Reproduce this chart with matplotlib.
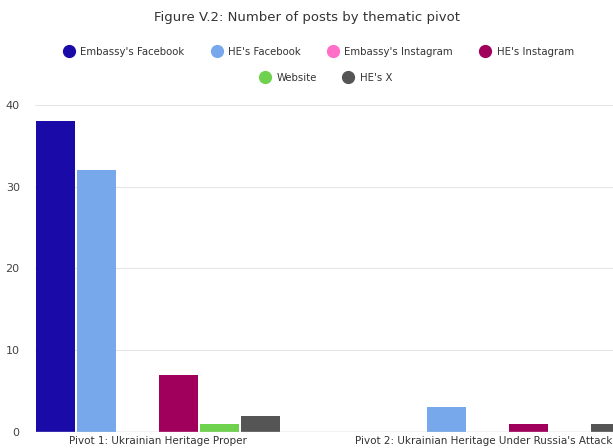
import matplotlib.pyplot as plt
import numpy as np
from matplotlib.lines import Line2D

# data
pivots = ["Pivot 1: Ukrainian Heritage Proper", "Pivot 2: Ukrainian Heritage Under Russia's Attack"]
channels = ["Embassy's Facebook", "HE's Facebook", "Embassy's Instagram", "HE's Instagram", "Website", "HE's X"]
embassy_fb = [38, 0]
he_fb = [32, 3]
embassy_ig = [0, 0]
he_ig = [7, 1]
website = [1, 0]
he_x = [2, 1]

colors = ["#1a0aa8", "#78a8ec", "#ff6ec7", "#a0005c", "#6fd24e", "#555555"]
series = [embassy_fb, he_fb, embassy_ig, he_ig, website, he_x]

fig = plt.figure(figsize=(6.13, 4.48), dpi=100)
ax = fig.add_axes([35 / 613, 16 / 448, 1 - 35 / 613, (432 - 105) / 448])

x = np.arange(len(pivots))
step = 0.117
width = 0.113
for i, (vals, c) in enumerate(zip(series, colors)):
    ax.bar(x + (i - 2.5) * step, vals, width, color=c, label=channels[i], zorder=3)

ax.set_xlim(-0.351, 1.3)
ax.set_ylim(0, 40)
ax.set_yticks([0, 10, 20, 30, 40])
ax.yaxis.grid(True, color="#e6e6e6", linewidth=0.8, zorder=0)
ax.axhline(0, color="#c8c8c8", linewidth=1, zorder=4)
for s in ax.spines.values():
    s.set_visible(False)
ax.tick_params(axis="y", length=0, labelsize=8, labelcolor="#444444", pad=11)
ax.set_xticks([])

# category labels; the second one is pushed left so it ends at the chart edge
ax.text(x[0], -0.012, pivots[0], transform=ax.get_xaxis_transform(),
        ha="center", va="top", fontsize=7.5, color="#333333")
ax.text(0.999, -0.012, pivots[1], transform=ax.transAxes,
        ha="right", va="top", fontsize=7.5, color="#333333")

fig.text(0.5, 1 - 18 / 448, "Figure V.2: Number of posts by thematic pivot",
         ha="center", va="center", fontsize=9.5, color="#333333")

handles = [Line2D([], [], marker="o", linestyle="", markersize=8.5,
                  markerfacecolor=c, markeredgecolor=c) for c in colors]
fig.legend(handles[:4], channels[:4], loc="center", ncol=4,
           bbox_to_anchor=(0.52, 1 - 52 / 448), frameon=False,
           fontsize=7.3, handletextpad=0.6, columnspacing=2.7,
           handlelength=1.0, labelcolor="#333333")
fig.legend(handles[4:], channels[4:], loc="center", ncol=2,
           bbox_to_anchor=(0.532, 1 - 78 / 448), frameon=False,
           fontsize=7.3, handletextpad=0.6, columnspacing=2.6,
           handlelength=1.0, labelcolor="#333333")

fig.savefig("out.png", dpi=100)
